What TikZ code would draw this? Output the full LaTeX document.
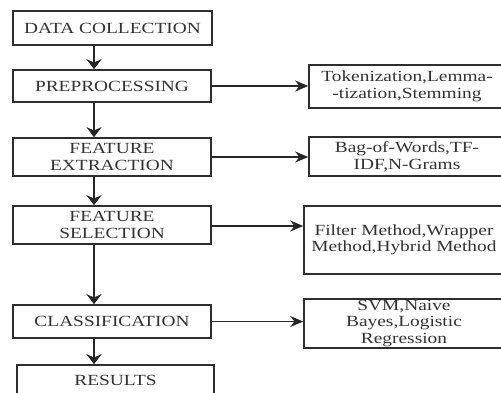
\documentclass[tikz,border=0pt]{standalone}
\usepackage{fontspec}
\newfontfamily\diafont[FakeStretch=1.25]{Liberation Serif}
\usetikzlibrary{arrows.meta}
\definecolor{inkline}{HTML}{2E2E2E}
\definecolor{inktext}{HTML}{333333}
\begin{document}
\begin{tikzpicture}[x=1pt,y=-1pt,
  box/.style={draw=inkline,line width=1.6pt,fill=white,inner sep=0pt,
    align=center,text=inktext,font=\diafont\fontsize{15.5}{16.5}\selectfont},
  arr/.style={draw=black!85,line width=1.5pt,-{Stealth[length=10pt,width=15pt]}},
  harr/.style={draw=black!85,line width=1.3pt,-{Stealth[length=13pt,width=11pt]}}]
\useasboundingbox (0,0) rectangle (501,392);
\fill[white] (0,0) rectangle (501,392);
\clip (0,0) rectangle (501,392);

% main pipeline
\node[box,minimum width=199pt,minimum height=34pt] (collect) at (112.5,28) {DATA COLLECTION};
\node[box,minimum width=198pt,minimum height=32pt] (prep) at (112,86) {PREPROCESSING};
\node[box,minimum width=198pt,minimum height=38pt] (extract) at (112,157) {FEATURE\\EXTRACTION};
\node[box,minimum width=198pt,minimum height=38pt] (select) at (112,225) {FEATURE\\SELECTION};
\node[box,minimum width=198pt,minimum height=33pt] (classify) at (112,321.5) {CLASSIFICATION};
\node[box,minimum width=197pt,minimum height=31pt] (results) at (115.5,380.5) {RESULTS};

% detail boxes
\node[box,minimum width=196pt,minimum height=43pt] (tok) at (407,86.5) {Tokenization,Lemma-\\-tization,Stemming};
\node[box,minimum width=196pt,minimum height=39pt] (bow) at (407,156.5) {Bag-of-Words,TF-\\IDF,N-Grams};
\node[box,minimum width=200pt,minimum height=68pt] (filt) at (404,240) {Filter Method,Wrapper\\Method,Hybrid Method};
\node[box,minimum width=200pt,minimum height=49pt] (svm) at (404,323.5) {SVM,Naive\\Bayes,Logistic\\Regression};

% column of the vertical connectors
\coordinate (col) at (94,0);

\draw[arr] (collect.south -| col) -- (prep.north -| col);
\draw[arr] (prep.south -| col) -- (extract.north -| col);
\draw[arr] (extract.south -| col) -- (select.north -| col);
\draw[arr] (select.south -| col) -- (classify.north -| col);
\draw[arr] (classify.south -| col) -- (results.north -| col);

\draw[harr] (prep.east) -- (prep.east -| tok.west);
\draw[harr] (extract.east) -- (extract.east -| bow.west);
\draw[harr] ([yshift=-1pt]select.east) -- ([yshift=-1pt]select.east -| filt.west);
\draw[harr] (classify.east) -- (classify.east -| svm.west);
\end{tikzpicture}
\end{document}
